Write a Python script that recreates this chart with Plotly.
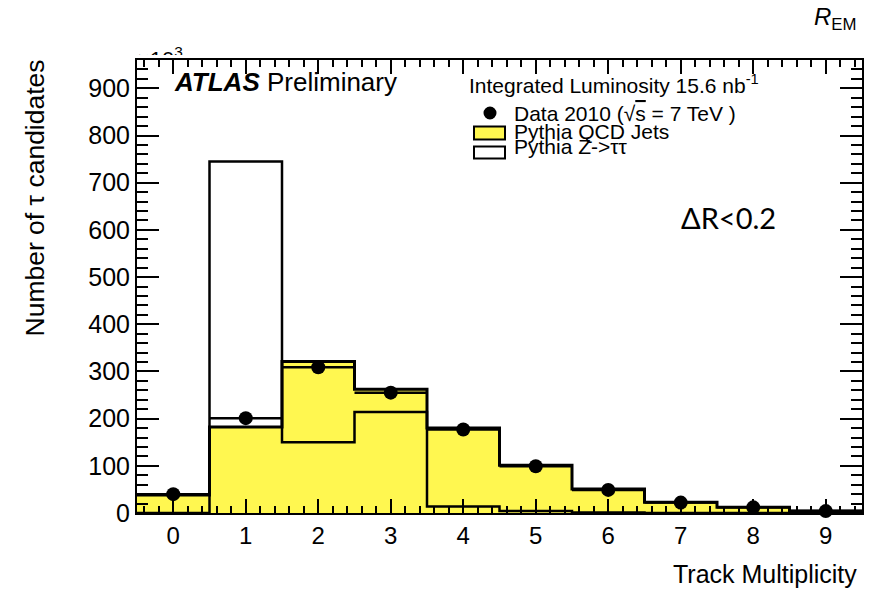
import plotly.graph_objects as go

# Track multiplicity of tau candidates (counts in units of 10^3)
categories = list(range(10))
tick_labels = [str(c) for c in categories]
qcd_jets = [38, 182, 321, 262, 180, 101, 51, 23, 12, 4]
z_tautau = [0, 745, 150, 214, 14, 4, 1, 0, 0, 0]
data_2010 = [40, 201, 309, 255, 177, 99, 49, 22, 12, 4]
y_ticks = list(range(0, 1000, 100))

W, H = 878, 592
ML, MR, MT, MB = 137, 16, 20, 79
FRAME_TOP = 60
FONT = "Liberation Sans, Arial, Helvetica, sans-serif"
YELLOW = "#FFF750"


def px(X):
    return (X - ML) / (W - ML - MR)


def py(Y):
    return (H - MB - Y) / (H - MT - MB)


edges = [c - 0.5 for c in categories] + [categories[-1] + 0.5]


def step(vals):
    return list(vals) + [vals[-1]]


fig = go.Figure()

# filled QCD histogram
fig.add_trace(go.Bar(
    x=categories, y=qcd_jets, width=1,
    marker=dict(color=YELLOW, line=dict(width=0)),
    showlegend=False, hoverinfo="skip",
))
# QCD outline
fig.add_trace(go.Scatter(
    x=edges, y=step(qcd_jets), mode="lines",
    line=dict(shape="hv", color="black", width=3),
    showlegend=False, hoverinfo="skip",
))
# Z -> tautau open histogram
fig.add_trace(go.Scatter(
    x=edges, y=step(z_tautau), mode="lines",
    line=dict(shape="hv", color="black", width=2.5),
    showlegend=False, hoverinfo="skip",
))
# data points with bin-width bars
fig.add_trace(go.Scatter(
    x=categories, y=data_2010, mode="markers",
    marker=dict(size=14, color="black"),
    error_x=dict(type="constant", value=0.5, width=0, thickness=2.5, color="black"),
    cliponaxis=False, showlegend=False,
))
# axis multiplier, partly hidden above the frame
fig.add_trace(go.Scatter(
    x=[0], y=[0.32], mode="text", text=["×10<sup>3</sup>"],
    textposition="bottom right",
    textfont=dict(family=FONT, size=22, color="black"),
    xaxis="x2", yaxis="y2", cliponaxis=True, showlegend=False, hoverinfo="skip",
))

axis_common = dict(
    showline=True, linecolor="black", linewidth=2, mirror="ticks",
    ticks="inside", tickcolor="black", tickwidth=1.5,
    showgrid=False, zeroline=False,
    tickfont=dict(family=FONT, size=24, color="black"),
)

fig.update_layout(
    width=W, height=H,
    margin=dict(l=ML, r=MR, t=MT, b=MB, pad=0),
    paper_bgcolor="white", plot_bgcolor="white",
    bargap=0, showlegend=False,
    font=dict(family=FONT, color="black"),
    xaxis=dict(
        range=[-0.5, 9.5], tickmode="array", tickvals=categories, ticktext=tick_labels,
        ticklen=14,
        minor=dict(ticks="inside", ticklen=7, tick0=0, dtick=0.2, tickcolor="black", tickwidth=1.5),
        **axis_common,
    ),
    yaxis=dict(
        range=[0, 960], domain=[0, py(FRAME_TOP)],
        tickmode="array", tickvals=y_ticks, ticktext=[str(v) for v in y_ticks],
        ticklen=22,
        minor=dict(ticks="inside", ticklen=11, tick0=0, dtick=20, tickcolor="black", tickwidth=1.5),
        **{**axis_common, "tickfont": dict(family=FONT, size=25, color="black")},
    ),
    xaxis2=dict(domain=[0, 1], range=[0, 1], anchor="y2", visible=False, fixedrange=True),
    yaxis2=dict(domain=[py(55), py(40)], range=[0, 1], anchor="x2", visible=False, fixedrange=True),
)

ann = []


def text(X, Y, s, size, xanchor="left", yanchor="middle", **kw):
    ann.append(dict(
        x=px(X), y=py(Y), xref="paper", yref="paper", text=s, showarrow=False,
        xanchor=xanchor, yanchor=yanchor,
        font=dict(family=kw.pop("family", FONT), size=size, color="black"), **kw,
    ))


text(172, 82, "<b><i>ATLAS</i></b> Preliminary", 26)
text(467, 84, "Integrated Luminosity 15.6 nb<sup>-1</sup>", 21)
text(512, 113, "Data 2010 (√<span style='text-decoration:overline'>s</span> = 7 TeV )", 21)
text(512, 131, "Pythia QCD Jets", 21)
text(512, 146, "Pythia Z-&gt;ττ", 21)
text(728, 217, "ΔR&lt;0.2", 29, xanchor="center", family="Lato, Open Sans, sans-serif")
text(859, 19, "<i>R</i><sub>EM</sub>", 24, xanchor="right")
text(859, 574, "Track Multiplicity", 25, xanchor="right")
text(34, 58, "Number of τ candidates", 26.5, xanchor="center", yanchor="top", textangle=-90)

shapes = [
    dict(type="circle", xref="paper", yref="paper",
         x0=px(483.5), x1=px(496.5), y0=py(119.5), y1=py(106.5),
         fillcolor="black", line=dict(width=0)),
    dict(type="rect", xref="paper", yref="paper",
         x0=px(474), x1=px(505), y0=py(139.5), y1=py(126.5),
         fillcolor=YELLOW, line=dict(color="black", width=2)),
    dict(type="rect", xref="paper", yref="paper",
         x0=px(474), x1=px(505), y0=py(158.5), y1=py(146.5),
         fillcolor="white", line=dict(color="black", width=2)),
]

fig.update_layout(annotations=ann, shapes=shapes)
fig.write_html("out.html")
